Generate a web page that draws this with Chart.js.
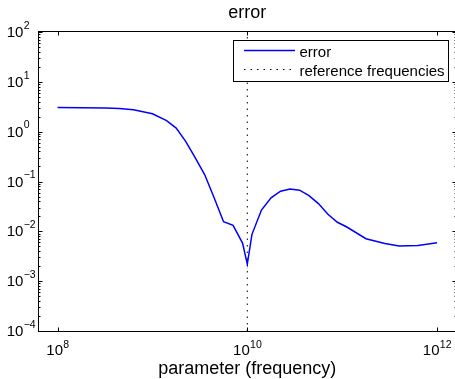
<!DOCTYPE html>
<html><head><meta charset="utf-8">
<script src="https://cdn.jsdelivr.net/npm/chart.js@4/dist/chart.umd.min.js"></script>
<style>html,body{margin:0;padding:0;overflow:hidden;background:#fff;width:455px;height:379px}canvas{display:block}</style>
</head><body><canvas id="c" width="458" height="379"></canvas>
<script>
// ---- data ----
const frequencies = [1e8, 3.16e8, 4.47e8, 6.31e8, 1e9, 1.41e9, 1.78e9, 2.24e9, 2.82e9, 3.55e9, 4.47e9, 5.62e9, 7.08e9, 8.91e9, 1e10, 1.12e10, 1.41e10, 1.78e10, 2.24e10, 2.82e10, 3.55e10, 4.47e10, 5.62e10, 7.08e10, 8.91e10, 1.12e11, 1.78e11, 2.82e11, 3.98e11, 6.31e11, 1e12];
const errors      = [3.06, 2.98, 2.92, 2.75, 2.29, 1.66, 1.18, 0.64, 0.30, 0.138, 0.047, 0.0156, 0.0132, 0.0058, 0.0022, 0.0087, 0.0267, 0.047, 0.064, 0.071, 0.067, 0.052, 0.036, 0.022, 0.0152, 0.0122, 0.0071, 0.0057, 0.0051, 0.0052, 0.0059];
const referenceFrequencies = [1e10];
const xTickExponents = [8, 10, 12];
const yTickExponents = [-4, -3, -2, -1, 0, 1, 2];
const titleText = 'error';
const xAxisLabel = 'parameter (frequency)';
const legendLabels = ['error', 'reference frequencies'];

const FONT = '"Liberation Sans", Arial, Helvetica, sans-serif';
const yMin = 1e-4, yMax = 1e2;

const errorData = frequencies.map((f, i) => ({x: f, y: errors[i]}));
const refData = [];
referenceFrequencies.forEach(f => { refData.push({x: f, y: yMin}, {x: f, y: yMax}); });

const DASH = [1.5, 5];

const matlabAxes = {
  id: 'matlabAxes',
  afterDraw(chart) {
    const {ctx, chartArea: a, scales: {x, y}} = chart;
    const L = Math.floor(a.left) + 0.5, R = Math.floor(a.right) + 0.5;
    const T = Math.floor(a.top) + 0.5, B = Math.floor(a.bottom) + 0.5;
    ctx.save();
    ctx.strokeStyle = '#000'; ctx.lineWidth = 1; ctx.setLineDash([]);
    ctx.strokeRect(L, T, R - L, B - T);
    ctx.beginPath();
    // y ticks (major + minor), left and right, inward
    for (let e = yTickExponents[0]; e <= yTickExponents[yTickExponents.length - 1]; e++) {
      const py = Math.round(y.getPixelForValue(Math.pow(10, e))) + 0.5;
      ctx.moveTo(L, py); ctx.lineTo(L + 4, py);
      ctx.moveTo(R, py); ctx.lineTo(R - 4, py);
      if (e < yTickExponents[yTickExponents.length - 1]) {
        for (let m = 2; m <= 9; m++) {
          const pm = Math.round(y.getPixelForValue(m * Math.pow(10, e))) + 0.5;
          ctx.moveTo(L, pm); ctx.lineTo(L + 2, pm);
          ctx.moveTo(R, pm); ctx.lineTo(R - 2, pm);
        }
      }
    }
    // x ticks top and bottom
    xTickExponents.forEach(e => {
      const px = Math.round(x.getPixelForValue(Math.pow(10, e))) + 0.5;
      ctx.moveTo(px, B); ctx.lineTo(px, B - 4);
      ctx.moveTo(px, T); ctx.lineTo(px, T + 4);
    });
    ctx.stroke();

    // tick labels with superscript exponents
    ctx.fillStyle = '#000';
    ctx.textBaseline = 'alphabetic';
    ctx.textAlign = 'left';
    const baseFont = '15px ' + FONT, expFont = '10.5px ' + FONT;
    const expStr = e => (e < 0 ? '\u2212' + Math.abs(e) : String(e));
    ctx.font = baseFont; const w10 = ctx.measureText('10').width;
    yTickExponents.forEach(e => {
      const py = y.getPixelForValue(Math.pow(10, e));
      const x0 = 6.7;
      ctx.font = baseFont; ctx.fillText('10', x0, py + 5);
      ctx.font = expFont; ctx.fillText(expStr(e), x0 + w10 + 0.3, py - 3.2);
    });
    xTickExponents.forEach(e => {
      const px = x.getPixelForValue(Math.pow(10, e));
      ctx.font = expFont; const we = ctx.measureText(expStr(e)).width;
      const x0 = px - (w10 + we) / 2;
      ctx.font = baseFont; ctx.fillText('10', x0, 355);
      ctx.font = expFont; ctx.fillText(expStr(e), x0 + w10 + 0.3, 348);
    });

    // legend
    const lx = 233.5, ly = 40.5, lw = 215, lh = 41;
    ctx.fillStyle = '#fff'; ctx.fillRect(lx, ly, lw, lh);
    ctx.strokeStyle = '#000'; ctx.strokeRect(lx, ly, lw, lh);
    const ds = chart.data.datasets;
    ctx.lineWidth = ds[0].borderWidth; ctx.strokeStyle = ds[0].borderColor;
    ctx.beginPath(); ctx.moveTo(244, 50.5); ctx.lineTo(295, 50.5); ctx.stroke();
    ctx.lineWidth = ds[1].borderWidth; ctx.strokeStyle = ds[1].borderColor; ctx.setLineDash(DASH);
    ctx.beginPath(); ctx.moveTo(244, 69.5); ctx.lineTo(295, 69.5); ctx.stroke();
    ctx.setLineDash([]);
    ctx.fillStyle = '#000'; ctx.font = '15px ' + FONT;
    ctx.fillText(legendLabels[0], 299.5, 57);
    ctx.fillText(legendLabels[1], 299.5, 75.5);
    ctx.restore();
  }
};

new Chart(document.getElementById('c'), {
  type: 'line',
  data: {
    datasets: [
      {label: legendLabels[0], data: errorData, borderColor: '#0000ff', backgroundColor: '#0000ff', borderWidth: 1.5, pointRadius: 0, tension: 0, fill: false},
      {label: legendLabels[1], data: refData, borderColor: '#000000', backgroundColor: '#000000', borderWidth: 1, borderDash: DASH, pointRadius: 0, tension: 0, fill: false}
    ]
  },
  options: {
    responsive: false, animation: false, devicePixelRatio: 1,
    layout: {padding: {left: 0, right: 2, top: 0, bottom: 0}},
    plugins: {
      legend: {display: false},
      tooltip: {enabled: false},
      title: {display: true, text: titleText, color: '#000', fullSize: false,
        font: {family: FONT, size: 18, weight: 'normal', lineHeight: 1.2}, padding: {top: 2.3, bottom: 8.1}}
    },
    scales: {
      x: {type: 'logarithmic', position: 'bottom', min: Math.pow(10, 7.8), max: Math.pow(10, 12.2),
        grid: {display: false}, border: {display: false}, ticks: {display: false},
        title: {display: true, text: xAxisLabel, color: '#000', font: {family: FONT, size: 18, lineHeight: 1}, padding: {top: 0, bottom: 1.2}},
        afterFit: s => { s.height = 48; }},
      y: {type: 'logarithmic', position: 'left', min: yMin, max: yMax,
        grid: {display: false}, border: {display: false}, ticks: {display: false},
        afterFit: s => { s.width = 38.6; }}
    }
  },
  plugins: [matlabAxes]
});
</script>
</body></html>
